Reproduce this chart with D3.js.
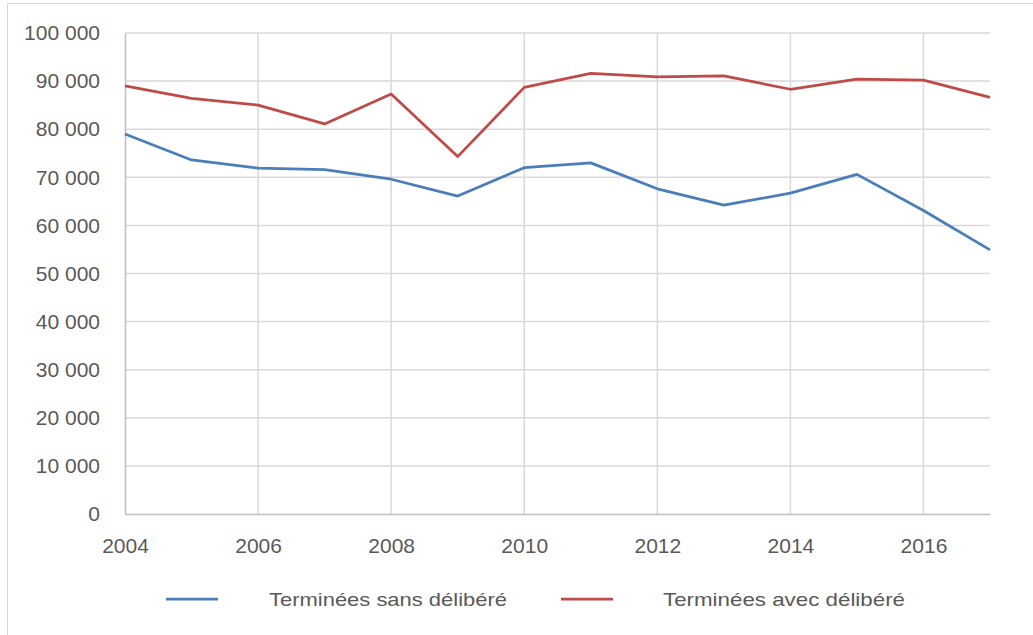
<!DOCTYPE html>
<html><head><meta charset="utf-8">
<script src="https://cdn.jsdelivr.net/npm/d3@7"></script>
<style>
html,body{margin:0;padding:0;background:#fff;}
svg{display:block;font-family:"Liberation Sans",Arial,sans-serif;}
</style></head>
<body>
<svg id="c" width="1033" height="635"></svg>
<script>
const years = [2004,2005,2006,2007,2008,2009,2010,2011,2012,2013,2014,2015,2016,2017];
const sansDelibere = [79000,73600,71900,71600,69600,66100,72000,73000,67600,64200,66700,70600,63100,54900];
const avecDelibere = [89000,86400,85000,81100,87300,74300,88700,91600,90900,91100,88300,90400,90200,86600];
const seriesNames = ["Terminées sans délibéré","Terminées avec délibéré"];
const yTicks = [0,10000,20000,30000,40000,50000,60000,70000,80000,90000,100000];
const xTicks = [2004,2006,2008,2010,2012,2014,2016];

const svg = d3.select("#c");
const x = d3.scaleLinear().domain([2004,2017]).range([125,990]);
const y = d3.scaleLinear().domain([0,100000]).range([514,33]);
const fmt = v => d3.format(",")(v).replace(/,/g," ");

// frame
svg.append("path").attr("d","M7.5,635 V3.5 H1033").attr("fill","none").attr("stroke","#d9d9d9").attr("stroke-width",1);

// gridlines
svg.append("g").selectAll("line").data(yTicks.filter(d=>d>0)).join("line")
  .attr("x1",x(2004)).attr("x2",x(2017)).attr("y1",d=>y(d)).attr("y2",d=>y(d))
  .attr("stroke","#d9d9d9").attr("stroke-width",1.5);
svg.append("g").selectAll("line").data(xTicks.filter(d=>d>2004)).join("line")
  .attr("x1",d=>x(d)).attr("x2",d=>x(d)).attr("y1",y(0)).attr("y2",y(100000))
  .attr("stroke","#d9d9d9").attr("stroke-width",1.5);

// axes
const yAxis = svg.append("g").attr("transform",`translate(${x(2004)},0)`)
  .call(d3.axisLeft(y).tickValues(yTicks).tickFormat(fmt).tickSize(0).tickPadding(25));
yAxis.select(".domain").attr("stroke","#bfbfbf").attr("stroke-width",1.5);
yAxis.selectAll("text").attr("font-size",21).attr("fill","#595959").attr("font-family","Liberation Sans, Arial, sans-serif");

const xAxis = svg.append("g").attr("transform",`translate(0,${y(0)})`)
  .call(d3.axisBottom(x).tickValues(xTicks).tickFormat(d3.format("d")).tickSize(0).tickPadding(24));
xAxis.select(".domain").attr("stroke","#bfbfbf").attr("stroke-width",1.5);
xAxis.selectAll("text").attr("font-size",21).attr("fill","#595959").attr("font-family","Liberation Sans, Arial, sans-serif");

// lines
const line = d3.line().x((d,i)=>x(years[i])).y(d=>y(d));
const colors = ["#4a7ebb","#be4b48"];
[sansDelibere,avecDelibere].forEach((s,k)=>{
  svg.append("path").datum(s).attr("d",line).attr("fill","none")
    .attr("stroke",colors[k]).attr("stroke-width",2.75).attr("stroke-linejoin","round");
});

// legend
const leg = [{x0:166,tx:269,w:238},{x0:561,tx:663,w:242}];
leg.forEach((l,k)=>{
  svg.append("line").attr("x1",l.x0).attr("x2",l.x0+52).attr("y1",599).attr("y2",599)
    .attr("stroke",colors[k]).attr("stroke-width",2.75);
  svg.append("text").attr("x",l.tx).attr("y",606).attr("font-size",19).attr("fill","#595959")
    .attr("textLength",l.w).attr("lengthAdjust","spacingAndGlyphs")
    .text(seriesNames[k]);
});
</script>
</body></html>
